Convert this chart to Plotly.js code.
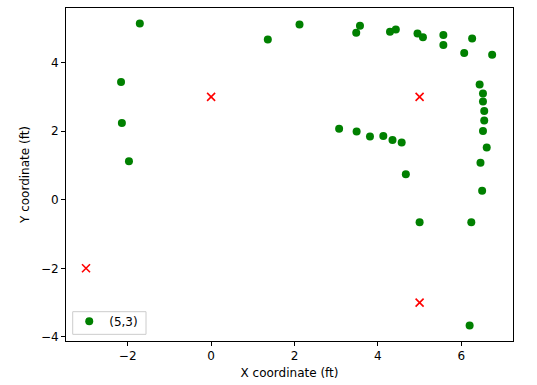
<!DOCTYPE html>
<html>
<head>
<meta charset="utf-8">
<script src="https://cdn.plot.ly/plotly-3.0.1.min.js"></script>
<style>html,body{margin:0;padding:0;background:#fff;}#chart{width:537px;height:385px;}</style>
</head>
<body>
<div id="chart"></div>
<script>
const greenX = [-1.71, -2.16, -2.14, -1.97, 1.36, 2.12,
  3.57, 3.48, 4.29, 4.43, 4.95, 5.08, 5.57, 5.57, 6.26, 6.07, 6.74,
  6.44, 6.52, 6.52, 6.55, 6.55, 6.52, 6.61, 6.46, 6.50,
  3.07, 3.49, 3.81, 4.13, 4.35, 4.57, 4.67,
  5.00, 6.24, 6.20];
const greenY = [5.14, 3.43, 2.24, 1.12, 4.67, 5.11,
  5.07, 4.87, 4.90, 4.96, 4.85, 4.74, 4.80, 4.51, 4.70, 4.28, 4.23,
  3.36, 3.10, 2.86, 2.59, 2.31, 2.00, 1.52, 1.08, 0.26,
  2.07, 1.99, 1.84, 1.86, 1.74, 1.67, 0.74,
  -0.66, -0.66, -3.67];
const crossX = [0, 5, -3, 5];
const crossY = [3, 3, -2, -3];
const legendLabel = "(5,3)";
const xTitle = "X coordinate (ft)";
const yTitle = "Y coordinate (ft)";

const font = {family: "DejaVu Sans", size: 12, color: "#000"};

const traces = [
  {x: greenX, y: greenY, type: "scatter", mode: "markers", name: legendLabel,
   marker: {color: "green", size: 8, line: {width: 0}}},
  {x: crossX, y: crossY, type: "scatter", mode: "markers", showlegend: false,
   marker: {symbol: "x-thin", color: "red", size: 8, line: {color: "red", width: 1.6}}}
];

const axisCommon = {
  showgrid: false, zeroline: false, showline: true, mirror: true,
  linecolor: "#000", linewidth: 1, ticks: "outside", ticklen: 4, tickwidth: 1,
  tickcolor: "#000", tickfont: font, dtick: 2, tick0: 0
};

const layout = {
  width: 537, height: 385,
  margin: {l: 66, r: 24, t: 8, b: 44, pad: 0},
  paper_bgcolor: "#fff", plot_bgcolor: "#fff",
  font: font,
  xaxis: Object.assign({}, axisCommon, {range: [-3.48, 7.24],
    title: {text: xTitle, font: font, standoff: 6}}),
  yaxis: Object.assign({}, axisCommon, {range: [-4.12, 5.59],
    title: {text: yTitle, font: font, standoff: 8}}),
  shapes: [
    {type: "rect", xref: "paper", yref: "paper",
     x0: 0.015, x1: 0.179, y0: 0.020, y1: 0.088,
     line: {color: "#cccccc", width: 1}, fillcolor: "rgba(255,255,255,0.8)", layer: "above"}
  ],
  showlegend: true,
  legend: {x: 0.005, y: 0.013, xanchor: "left", yanchor: "bottom",
    bgcolor: "rgba(0,0,0,0)", bordercolor: "rgba(0,0,0,0)", borderwidth: 1,
    font: font, itemwidth: 30}
};

Plotly.newPlot("chart", traces, layout, {displayModeBar: false, staticPlot: true});
</script>
</body>
</html>
